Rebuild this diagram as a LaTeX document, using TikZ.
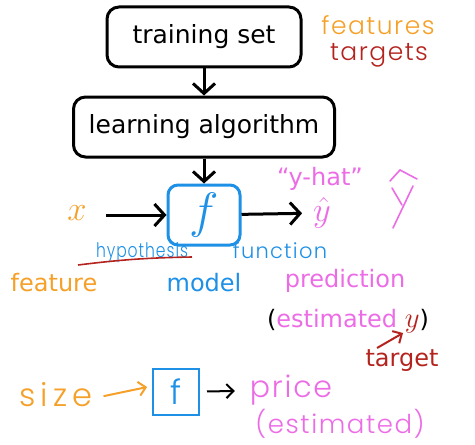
\documentclass[tikz,border=0pt]{standalone}
\usepackage{amsmath,amssymb}
\usepackage{xcolor}
\usepackage{fontspec}
\setmainfont{DejaVu Sans}
\newfontfamily\handfont{Poppins Light}[LetterSpace=6]
\usepackage{tikz}
\usetikzlibrary{arrows}
\usetikzlibrary{arrows.meta}

\definecolor{featorange}{RGB}{245,160,40}
\definecolor{modelblue}{RGB}{30,144,230}
\definecolor{predpink}{RGB}{236,108,230}
\definecolor{targetred}{RGB}{180,35,30}

\begin{document}
\begin{tikzpicture}[x=0.5pt,y=-0.5pt,
    every node/.style={font=\fontsize{12}{14}\selectfont},
    stepbox/.style={draw,line width=1.5pt,rounded corners=6pt,minimum height=30pt,
      font=\fontsize{12.5}{15}\selectfont},
    fbox/.style={draw=modelblue,line width=1.5pt,rounded corners=5pt,minimum width=36pt,
      minimum height=30pt,inner sep=0pt,text=modelblue,font=\fontsize{24}{26}\selectfont},
    mathlbl/.style={font=\fontsize{16}{18}\selectfont},
    hand/.style={font=\handfont\fontsize{#1}{#1}\selectfont},
    arr/.style={-{Straight Barb[length=5pt,width=11pt]},line width=1.5pt},
    thinarr/.style={-{Straight Barb[length=3.5pt,width=7pt]},line width=1pt}]
    \useasboundingbox (0,0) rectangle (475,444);
    \node[stepbox,minimum width=97pt] (train) at (204,37) {training set};
    \node[stepbox,minimum width=130.5pt] (learn) at (204,127) {learning algorithm};
    \node[fbox] (model) at (204,215) {$f$};
    \draw[arr] (train) -- (learn);
    \draw[arr] (learn) -- (model);
    \node[hand=12.5,text=featorange] (features) at (378,25) {features};
    \node[hand=12.5,text=targetred] (targets) at (379,55) {targets};
    \node[mathlbl,text=featorange] (x) at (77,213) {$x$};
    \coordinate (xend) at (106,215);
    \draw[arr] (xend) -- (model);
    \node[mathlbl,text=predpink] (yhat) at (322,213) {$\hat{y}$};
    \draw[arr,shorten >=2pt] (model) -- (yhat);
    \node[text=predpink] (yhatname) at (320,179) {``y-hat''};
    \begin{scope}[predpink,line width=0.8pt,line cap=round]
      \draw (390,181) -- (400,170) -- (417,179);
      \draw (392,188) -- (402,205);
      \draw (413,186) -- (393,228);
    \end{scope}
    \node[hand=10,text=modelblue] (hypo) at (142,253) {\scalebox{0.78}[1]{hypothesis}};
    \draw[targetred,line width=0.8pt] (78,265) to[bend left=3] (192,257);
    \node[hand=10.5,text=modelblue] (func) at (280,251) {function};
    \node[text=featorange] (feature) at (54,283) {feature};
    \node[text=modelblue] (modelname) at (204,283) {model};
    \node[text=predpink] (prediction) at (345,281) {prediction};
    \node (estim) at (348,321) {(\textcolor{predpink}{estimated} \textcolor{targetred}{\fontsize{15}{17}\selectfont$y$})};
    \node[text=targetred] (target) at (402,361) {target};
    \coordinate (tstart) at (377,348);
    \coordinate (ytip) at (403,333);
    \draw[targetred,thinarr] (tstart) -- (ytip);
    \node[hand=16,text=featorange] (size) at (56,395) {\addfontfeatures{LetterSpace=16}size};
    \node[draw=modelblue,line width=1pt,minimum size=23pt,inner sep=0pt,text=modelblue,
      hand=17] (fsmall) at (176,392) {f};
    \node[hand=15,text=predpink] (price) at (291,390) {price};
    \node[hand=13,text=predpink] (priceest) at (340,424) {(estimated)};
    \draw[featorange,thinarr,shorten <=2pt,shorten >=2.5pt] ([yshift=-1pt]size.east) -- ([yshift=3pt]fsmall.west);
    \draw[thinarr,shorten <=3.5pt,shorten >=4pt] (fsmall) -- (price);
\end{tikzpicture}
\end{document}
